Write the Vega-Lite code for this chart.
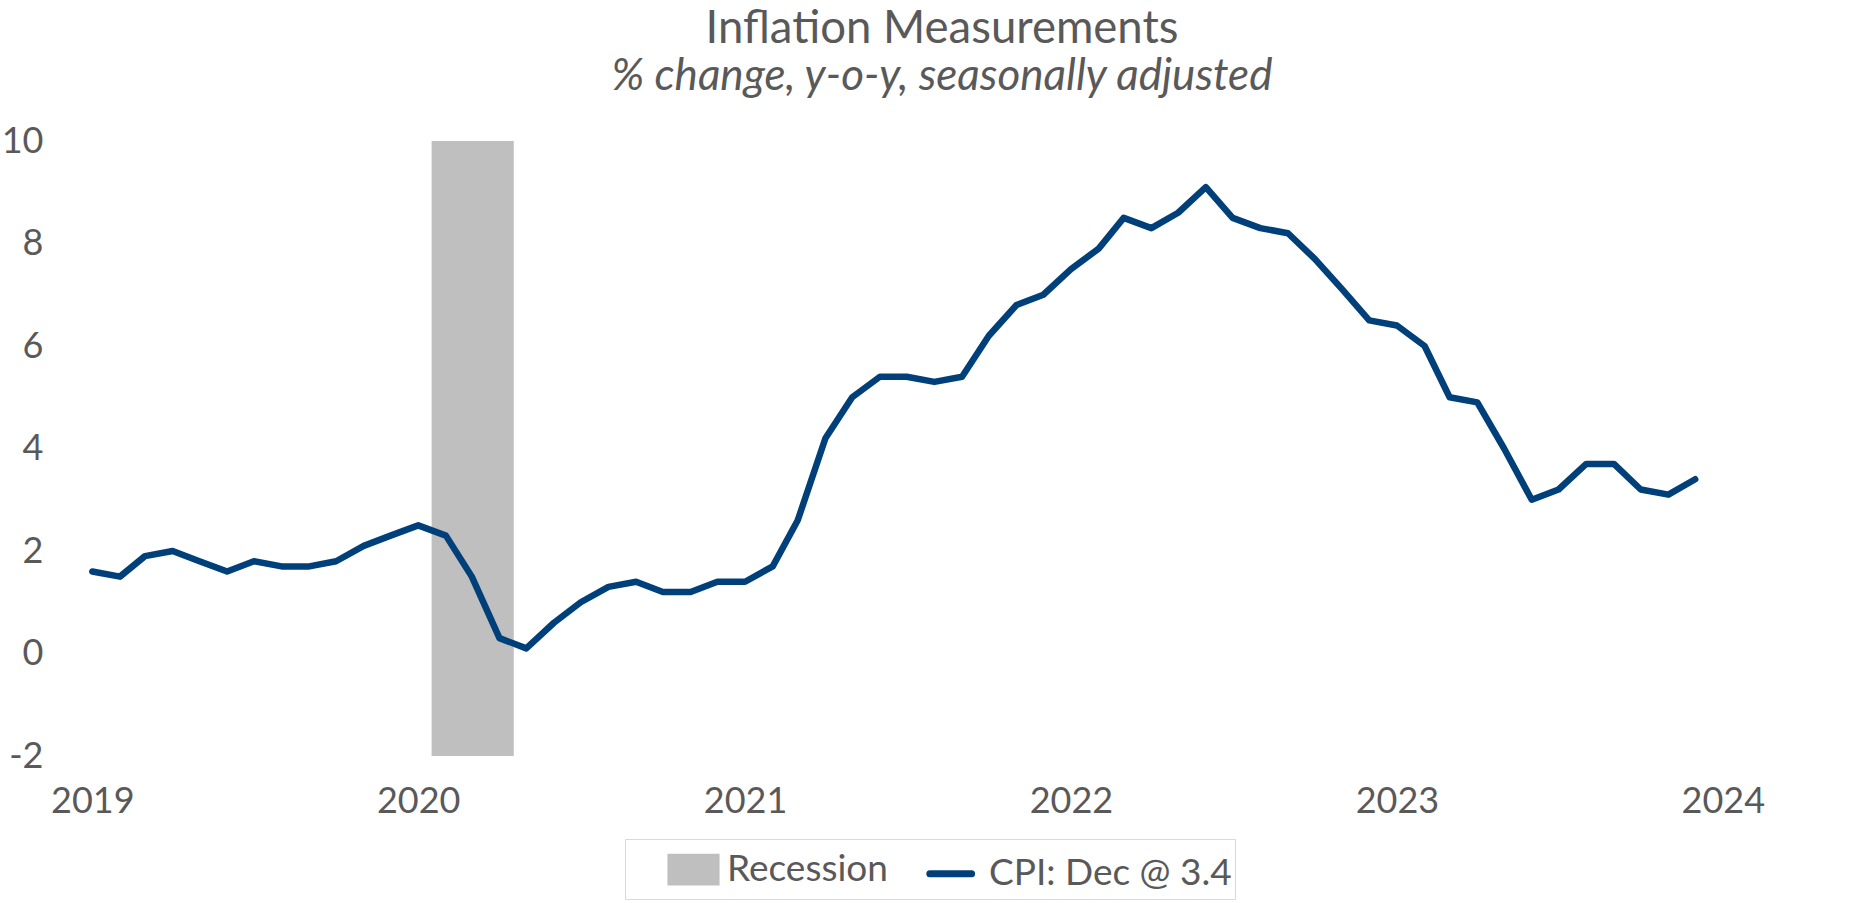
{
  "$schema": "https://vega.github.io/schema/vega-lite/v6.json",
  "autosize": {"type": "none"},
  "padding": {"left": 78, "top": 141, "right": 3, "bottom": 147},
  "width": 1794,
  "height": 615,
  "background": "white",
  "config": {
    "font": "Lato",
    "view": {"stroke": null}
  },
  "title": {
    "text": "Inflation Measurements",
    "subtitle": "% change, y-o-y, seasonally adjusted",
    "anchor": "middle",
    "dx": -33,
    "font": "Lato",
    "fontSize": 45.5,
    "fontWeight": "normal",
    "color": "#595959",
    "subtitleFont": "Lato",
    "subtitleFontSize": 44,
    "subtitleFontStyle": "italic",
    "subtitleColor": "#595959",
    "subtitlePadding": 3,
    "offset": 24
  },
  "datasets": {
    "recession": [
      {"start": "2020-01-16", "end": "2020-04-17", "series": "Recession"}
    ],
    "cpi": [
      {"date": "2019-01-01", "value": 1.6, "series": "CPI: Dec @ 3.4"},
      {"date": "2019-02-01", "value": 1.5, "series": "CPI: Dec @ 3.4"},
      {"date": "2019-03-01", "value": 1.9, "series": "CPI: Dec @ 3.4"},
      {"date": "2019-04-01", "value": 2.0, "series": "CPI: Dec @ 3.4"},
      {"date": "2019-05-01", "value": 1.8, "series": "CPI: Dec @ 3.4"},
      {"date": "2019-06-01", "value": 1.6, "series": "CPI: Dec @ 3.4"},
      {"date": "2019-07-01", "value": 1.8, "series": "CPI: Dec @ 3.4"},
      {"date": "2019-08-01", "value": 1.7, "series": "CPI: Dec @ 3.4"},
      {"date": "2019-09-01", "value": 1.7, "series": "CPI: Dec @ 3.4"},
      {"date": "2019-10-01", "value": 1.8, "series": "CPI: Dec @ 3.4"},
      {"date": "2019-11-01", "value": 2.1, "series": "CPI: Dec @ 3.4"},
      {"date": "2019-12-01", "value": 2.3, "series": "CPI: Dec @ 3.4"},
      {"date": "2020-01-01", "value": 2.5, "series": "CPI: Dec @ 3.4"},
      {"date": "2020-02-01", "value": 2.3, "series": "CPI: Dec @ 3.4"},
      {"date": "2020-03-01", "value": 1.5, "series": "CPI: Dec @ 3.4"},
      {"date": "2020-04-01", "value": 0.3, "series": "CPI: Dec @ 3.4"},
      {"date": "2020-05-01", "value": 0.1, "series": "CPI: Dec @ 3.4"},
      {"date": "2020-06-01", "value": 0.6, "series": "CPI: Dec @ 3.4"},
      {"date": "2020-07-01", "value": 1.0, "series": "CPI: Dec @ 3.4"},
      {"date": "2020-08-01", "value": 1.3, "series": "CPI: Dec @ 3.4"},
      {"date": "2020-09-01", "value": 1.4, "series": "CPI: Dec @ 3.4"},
      {"date": "2020-10-01", "value": 1.2, "series": "CPI: Dec @ 3.4"},
      {"date": "2020-11-01", "value": 1.2, "series": "CPI: Dec @ 3.4"},
      {"date": "2020-12-01", "value": 1.4, "series": "CPI: Dec @ 3.4"},
      {"date": "2021-01-01", "value": 1.4, "series": "CPI: Dec @ 3.4"},
      {"date": "2021-02-01", "value": 1.7, "series": "CPI: Dec @ 3.4"},
      {"date": "2021-03-01", "value": 2.6, "series": "CPI: Dec @ 3.4"},
      {"date": "2021-04-01", "value": 4.2, "series": "CPI: Dec @ 3.4"},
      {"date": "2021-05-01", "value": 5.0, "series": "CPI: Dec @ 3.4"},
      {"date": "2021-06-01", "value": 5.4, "series": "CPI: Dec @ 3.4"},
      {"date": "2021-07-01", "value": 5.4, "series": "CPI: Dec @ 3.4"},
      {"date": "2021-08-01", "value": 5.3, "series": "CPI: Dec @ 3.4"},
      {"date": "2021-09-01", "value": 5.4, "series": "CPI: Dec @ 3.4"},
      {"date": "2021-10-01", "value": 6.2, "series": "CPI: Dec @ 3.4"},
      {"date": "2021-11-01", "value": 6.8, "series": "CPI: Dec @ 3.4"},
      {"date": "2021-12-01", "value": 7.0, "series": "CPI: Dec @ 3.4"},
      {"date": "2022-01-01", "value": 7.5, "series": "CPI: Dec @ 3.4"},
      {"date": "2022-02-01", "value": 7.9, "series": "CPI: Dec @ 3.4"},
      {"date": "2022-03-01", "value": 8.5, "series": "CPI: Dec @ 3.4"},
      {"date": "2022-04-01", "value": 8.3, "series": "CPI: Dec @ 3.4"},
      {"date": "2022-05-01", "value": 8.6, "series": "CPI: Dec @ 3.4"},
      {"date": "2022-06-01", "value": 9.1, "series": "CPI: Dec @ 3.4"},
      {"date": "2022-07-01", "value": 8.5, "series": "CPI: Dec @ 3.4"},
      {"date": "2022-08-01", "value": 8.3, "series": "CPI: Dec @ 3.4"},
      {"date": "2022-09-01", "value": 8.2, "series": "CPI: Dec @ 3.4"},
      {"date": "2022-10-01", "value": 7.7, "series": "CPI: Dec @ 3.4"},
      {"date": "2022-11-01", "value": 7.1, "series": "CPI: Dec @ 3.4"},
      {"date": "2022-12-01", "value": 6.5, "series": "CPI: Dec @ 3.4"},
      {"date": "2023-01-01", "value": 6.4, "series": "CPI: Dec @ 3.4"},
      {"date": "2023-02-01", "value": 6.0, "series": "CPI: Dec @ 3.4"},
      {"date": "2023-03-01", "value": 5.0, "series": "CPI: Dec @ 3.4"},
      {"date": "2023-04-01", "value": 4.9, "series": "CPI: Dec @ 3.4"},
      {"date": "2023-05-01", "value": 4.0, "series": "CPI: Dec @ 3.4"},
      {"date": "2023-06-01", "value": 3.0, "series": "CPI: Dec @ 3.4"},
      {"date": "2023-07-01", "value": 3.2, "series": "CPI: Dec @ 3.4"},
      {"date": "2023-08-01", "value": 3.7, "series": "CPI: Dec @ 3.4"},
      {"date": "2023-09-01", "value": 3.7, "series": "CPI: Dec @ 3.4"},
      {"date": "2023-10-01", "value": 3.2, "series": "CPI: Dec @ 3.4"},
      {"date": "2023-11-01", "value": 3.1, "series": "CPI: Dec @ 3.4"},
      {"date": "2023-12-01", "value": 3.4, "series": "CPI: Dec @ 3.4"}
    ]
  },
  "encoding": {
    "x": {
      "type": "temporal",
      "scale": {"domain": ["2018-12-16", "2024-06-16"]},
      "axis": {
        "title": null,
        "format": "%Y",
        "values": [
          {"year": 2019, "month": 1, "date": 1},
          {"year": 2020, "month": 1, "date": 1},
          {"year": 2021, "month": 1, "date": 1},
          {"year": 2022, "month": 1, "date": 1},
          {"year": 2023, "month": 1, "date": 1},
          {"year": 2024, "month": 1, "date": 1}
        ],
        "domain": false,
        "ticks": false,
        "grid": false,
        "labelFlush": false,
        "labelOverlap": false,
        "labelBound": false,
        "labelFont": "Lato",
        "labelFontSize": 36,
        "labelColor": "#595959",
        "labelPadding": 28
      }
    }
  },
  "layer": [
    {
      "data": {"name": "recession"},
      "mark": {"type": "rect"},
      "encoding": {
        "x": {"field": "start", "type": "temporal"},
        "x2": {"field": "end"},
        "y": {"datum": 10, "type": "quantitative"},
        "y2": {"datum": -2},
        "color": {
          "field": "series",
          "type": "nominal",
          "scale": {
            "domain": ["Recession", "CPI: Dec @ 3.4"],
            "range": ["#bfbfbf", "#00407a"]
          },
          "legend": {
            "title": null,
            "orient": "none",
            "direction": "horizontal",
            "legendX": 547,
            "legendY": 698,
            "strokeColor": "#d9d9d9",
            "fillColor": "white",
            "padding": 3,
            "symbolOffset": 38,
            "columnPadding": 2,
            "labelOffset": 6,
            "labelFont": "Lato",
            "labelFontSize": 37,
            "labelColor": "#595959",
            "labelLimit": 400,
            "symbolSize": 2304,
            "labelExpr": "datum.value == 'Recession' ? datum.label : datum.label + '\u00a0\u00a0\u00a0\u00a0'",
            "encode": {
              "symbols": {
                "update": {
                  "shape": {"signal": "datum.value == 'Recession' ? 'M-0.94,-0.515H0.94V0.515H-0.94Z' : 'M-1.07,0H0.67'"},
                  "fill": {"signal": "datum.value == 'Recession' ? '#bfbfbf' : 'transparent'"},
                  "stroke": {"signal": "datum.value == 'Recession' ? 'transparent' : '#00407a'"},
                  "strokeWidth": {"value": 7},
                  "strokeCap": {"value": "round"},
                  "opacity": {"value": 1}
                }
              }
            }
          }
        }
      }
    },
    {
      "mark": {"type": "rule", "color": "#d9d9d9", "strokeWidth": 2},
      "encoding": {
        "y": {"datum": 0, "type": "quantitative"}
      }
    },
    {
      "data": {"name": "cpi"},
      "mark": {"type": "line", "strokeWidth": 6.5, "strokeCap": "round", "strokeJoin": "round"},
      "encoding": {
        "x": {"field": "date", "type": "temporal"},
        "y": {
          "field": "value",
          "type": "quantitative",
          "scale": {"domain": [-2, 10], "nice": false, "zero": false},
          "axis": {
            "title": null,
            "values": [-2, 0, 2, 4, 6, 8, 10],
            "labelExpr": "datum.value < 0 ? '-' + abs(datum.value) : '' + datum.value",
            "domain": false,
            "ticks": false,
            "grid": false,
            "labelFont": "Lato",
            "labelFontSize": 36,
            "labelColor": "#595959",
            "labelPadding": 35
          }
        },
        "color": {"field": "series", "type": "nominal"}
      }
    }
  ]
}
